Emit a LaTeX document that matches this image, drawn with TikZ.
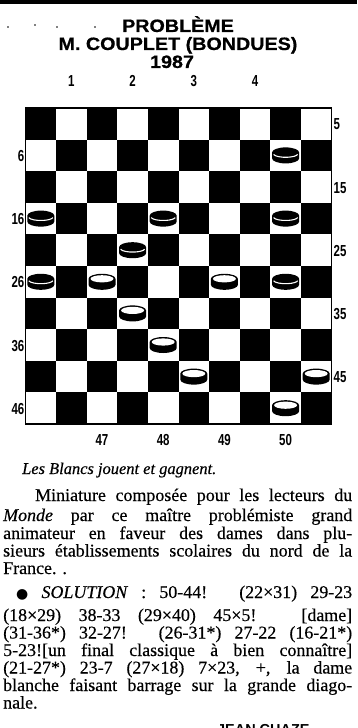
\documentclass[tikz,border=0pt]{standalone}
\usepackage{fontspec}
\setmainfont{Liberation Serif}
\newfontfamily\hsans{Liberation Sans}
\newfontfamily\dvs{DejaVu Sans}
\newcommand\bodyfont{\fontsize{18}{18}\selectfont\addfontfeatures{FakeBold=0.4}}
\newsavebox\lbox
\newcommand\jline[2]{%
  \sbox\lbox{#2}%
  \ifdim\wd\lbox>#1\relax
    \pgfmathsetmacro\jf{#1/\wd\lbox}%
    \scalebox{\jf}[1]{\usebox\lbox}%
  \else
    \makebox[#1][s]{#2}%
  \fi}
\tikzset{
  body/.style={anchor=base west, inner sep=0pt, font=\bodyfont},
  title/.style={anchor=base, inner sep=0pt, font=\hsans\bfseries\fontsize{18}{18}\selectfont\addfontfeatures{FakeBold=0.6}},
  lab/.style={inner sep=0pt, font=\hsans\bfseries\fontsize{16}{16}\selectfont},
}
\newcommand\nar[1]{\scalebox{0.72}[1]{#1}}
\newcommand\wid[1]{\scalebox{1.1}[1]{#1}}
\begin{document}
\begin{tikzpicture}[x=1bp,y=-1bp]
\useasboundingbox (0,0) rectangle (357,728);
\clip (0,0) rectangle (357,728);
\fill (0,0) rectangle (357,4.5);
\foreach \dx/\dy in {8/27,35/25,57/27,95/27}{\fill (\dx,\dy) circle[radius=0.9];}
% titles
\node[title] (t1) at (178,32) {\wid{PROBLÈME}};
\node[title] (t2) at (178,50) {\wid{M. COUPLET (BONDUES)}};
\node[title] (t3) at (172,68) {\wid{1987}};
% board
\def\bx{25.5}\def\by{108}\def\sw{30.6}\def\sh{31.6}
\foreach \r in {0,...,9}{
  \foreach \c in {0,2,...,8}{
    \pgfmathtruncatemacro\cc{\c+mod(\r,2)}
    \fill (\bx+\cc*\sw,\by+\r*\sh) rectangle ++(\sw,\sh);
  }
}
\draw[line width=1.8pt] (\bx,\by) rectangle ++(10*\sw,10*\sh);
% pieces
\newcommand\piece[2]{%
  \pgfmathtruncatemacro\pr{floor((#1-1)/5)}%
  \pgfmathtruncatemacro\pk{mod(#1-1,5)}%
  \pgfmathtruncatemacro\pc{2*\pk+1-mod(\pr,2)}%
  \pgfmathsetmacro\px{\bx+(\pc+0.5)*\sw}%
  \pgfmathsetmacro\py{\by+(\pr+0.5)*\sh}%
  \fill (\px-13.5,\py-3) arc[start angle=180,end angle=360,x radius=13.5,y radius=5] -- (\px+13.5,\py+3)
     arc[start angle=0,end angle=180,x radius=13.5,y radius=5] -- cycle;
  \ifnum#2=1
    \fill[white] (\px,\py-3) ellipse[x radius=11.5,y radius=3.6];
  \else
    \draw[white,line width=1.1pt] (\px-12,\py-1) arc[start angle=170,end angle=10,x radius=12.2,y radius=3.5];
  \fi
}
\foreach \n in {10,16,18,20,22,26,30}{\piece{\n}{0}}
\foreach \n in {27,29,32,38,43,45,50}{\piece{\n}{1}}
% labels
\foreach \t/\c in {1/1,2/3,3/5,4/7}{\node[lab,anchor=base] (top\t) at (\bx+\c*\sw+0.5*\sw,87) {\nar{\t}};}
\foreach \t/\c in {47/2,48/4,49/6,50/8}{\node[lab,anchor=base] (bot\t) at (\bx+\c*\sw+0.5*\sw,445) {\nar{\t}};}
\foreach \t/\r in {5/0,15/2,25/4,35/6,45/8}{\node[lab,anchor=base west] (r\t) at (\bx+10*\sw+2,\by+\r*\sh+0.5*\sh+6) {\nar{\t}};}
\foreach \t/\r in {6/1,16/3,26/5,36/7,46/9}{\node[lab,anchor=base east] (l\t) at (\bx-1,\by+\r*\sh+0.5*\sh+6) {\nar{\t}};}
% caption
\node[body,font=\fontsize{16.5}{16.5}\selectfont\itshape\addfontfeatures{FakeBold=0.4}] (cap) at (22,474) {Les Blancs jouent et gagnent.};
% paragraph
\node[body] (p1) at (35,501) {\jline{317bp}{Miniature composée pour les lecteurs du}};
\node[body] (p2) at (3,521) {\jline{349bp}{\textit{Monde} par ce maître problémiste grand}};
\node[body] (p3) at (3,539) {\jline{349bp}{animateur en faveur des dames dans plu-}};
\node[body] (p4) at (3,556.5) {\jline{349bp}{sieurs établissements scolaires du nord de la}};
\node[body] (p5) at (3,574) {France. .};
\node[body] (p6) at (16,598) {\jline{336bp}{{\dvs\fontsize{14}{14}\selectfont●} \textit{SOLUTION} : 50-44! (22×31) 29-23}};
\node[body] (p7) at (3,621) {\jline{349bp}{(18×29) 38-33 (29×40) 45×5! [dame]}};
\node[body] (p8) at (3,638.5) {\jline{349bp}{(31-36*) 32-27! (26-31*) 27-22 (16-21*)}};
\node[body] (p9) at (3,656) {\jline{349bp}{5-23![un final classique à bien connaître]}};
\node[body] (p10) at (3,673.5) {\jline{349bp}{(21-27*) 23-7 (27×18) 7×23, +, la dame}};
\node[body] (p11) at (3,691) {\jline{349bp}{blanche faisant barrage sur la grande diago-}};
\node[body] (p12) at (3,708.5) {nale.};
\node[anchor=base west, inner sep=0pt, font=\hsans\bfseries\fontsize{14.5}{14.5}\selectfont] (sig) at (217,734) {JEAN CHAZE};
\end{tikzpicture}
\end{document}
